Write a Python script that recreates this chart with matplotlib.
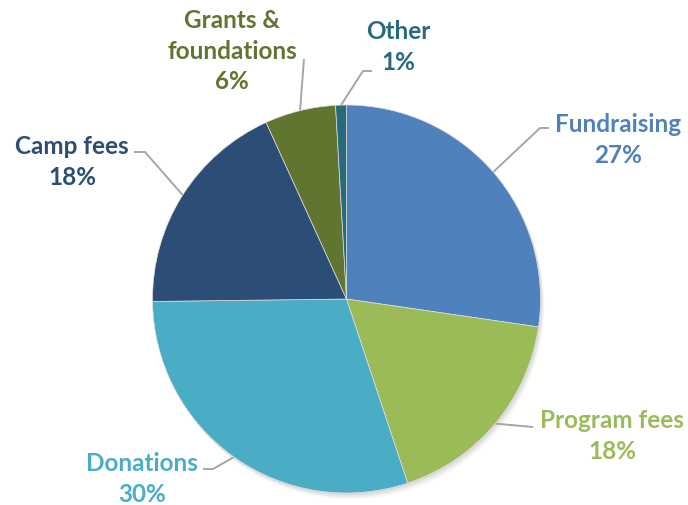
import matplotlib
matplotlib.use("Agg")
import matplotlib.pyplot as plt
import numpy as np

categories = ["Fundraising", "Program fees", "Donations", "Camp fees", "Grants &\nfoundations", "Other"]
values = [27.3, 17.6, 29.9, 18.4, 5.9, 0.9]
colors = ["#4F81BD", "#9BBB59", "#4BACC6", "#2C4D75", "#5F7530", "#276A7C"]

W, H = 688, 506
fig = plt.figure(figsize=(W / 100, H / 100), dpi=100)
ax = fig.add_axes([0, 0, 1, 1])

cx, cy, r = 346.5, H - 300, 194

# soft shadow
for k, a in [(6, 0.04), (4, 0.05), (2, 0.06)]:
    ax.add_patch(plt.Circle((cx + k * 0.6, cy - k), r, color="black", alpha=a, lw=0, zorder=0))

wedges, _ = ax.pie(values, colors=colors, startangle=90, counterclock=False,
                   center=(cx, cy), radius=r, frame=True,
                   wedgeprops=dict(linewidth=0.5, edgecolor="#e0e0e0", zorder=2))
ax.set_xlim(0, W)
ax.set_ylim(0, H)
ax.set_aspect("equal")
ax.axis("off")

# label text positions (pixel coords, top-origin) and leader line elbows
label_pos = [(618, 140), (612, 436), (142, 479), (72, 162), (232, 51), (398, 47)]
elbows = [[(540, 129), (549, 129)],
          [(533, 428)],
          [(213, 470), (203, 470)],
          [(145, 153), (134, 153)],
          [(304, 60)],
          [(363, 72), (372, 72)]]

font = dict(family=["Lato", "DejaVu Sans"], fontweight="bold", fontsize=17.5)
total = sum(values)
for w, cat, val, col, (lx, ly), elb in zip(wedges, categories, values, colors, label_pos, elbows):
    ang = np.deg2rad((w.theta1 + w.theta2) / 2)
    px, py = cx + r * np.cos(ang), cy + r * np.sin(ang)
    xs = [px] + [e[0] for e in elb]
    ys = [py] + [H - e[1] for e in elb]
    ax.plot(xs, ys, color="#A6A6A6", lw=1.4, solid_capstyle="butt", zorder=1)
    pct = f"{val / total * 100:.0f}%"
    ax.text(lx, H - ly, f"{cat}\n{pct}", color=col, ha="center", va="center",
            linespacing=1.4, **font)

fig.savefig("out.png", dpi=100)
